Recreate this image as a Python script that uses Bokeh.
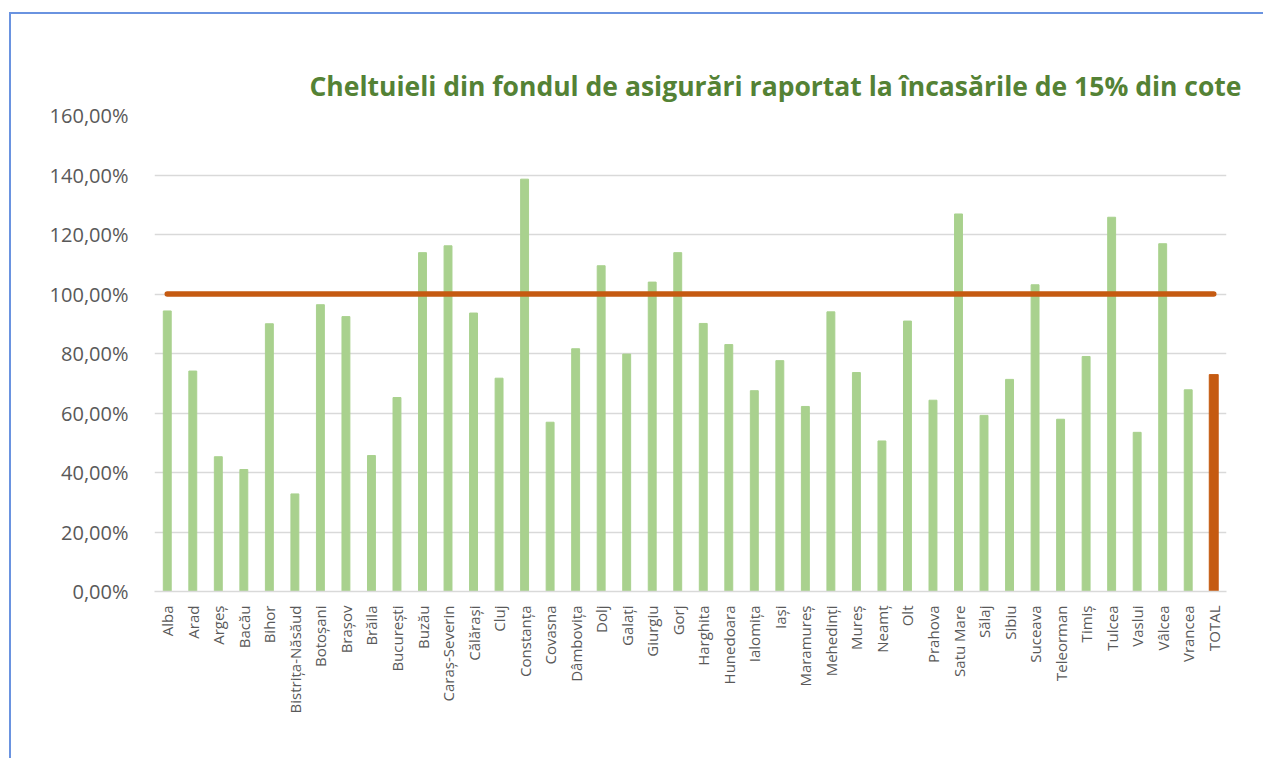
from bokeh.plotting import figure
from bokeh.models import ColumnDataSource, FactorRange, FixedTicker, Title
from bokeh.embed import file_html
from bokeh.resources import INLINE

categories = ["Alba", "Arad", "Argeș", "Bacău", "Bihor", "Bistrița-Năsăud", "Botoșani",
              "Brașov", "Brăila", "București", "Buzău", "Caraș-Severin", "Călărași", "Cluj",
              "Constanța", "Covasna", "Dâmbovița", "Dolj", "Galați", "Giurgiu", "Gorj",
              "Harghita", "Hunedoara", "Ialomița", "Iași", "Maramureș", "Mehedinți", "Mureș",
              "Neamț", "Olt", "Prahova", "Satu Mare", "Sălaj", "Sibiu", "Suceava", "Teleorman",
              "Timiș", "Tulcea", "Vaslui", "Vâlcea", "Vrancea", "TOTAL"]
values = [94.3, 74.1, 45.3, 41.0, 90.0, 32.8, 96.4,
          92.4, 45.7, 65.2, 113.9, 116.2, 93.6, 71.7,
          138.6, 56.9, 81.6, 109.5, 79.8, 104.0, 113.9,
          90.1, 83.0, 67.5, 77.6, 62.2, 94.0, 73.6,
          50.6, 90.9, 64.3, 126.9, 59.2, 71.3, 103.1, 57.9,
          79.0, 125.8, 53.5, 116.9, 67.8, 72.9]
target = [100, 100]
y_ticks = [0, 20, 40, 60, 80, 100, 120, 140, 160]
title_text = "Cheltuieli din fondul de asigurări raportat la încasările de 15% din cote"

GREEN = "#A9D18E"
ORANGE = "#C55A11"
GRAY = "#595959"
BLUE = "#6A93E0"

colors = [ORANGE if c == "TOTAL" else GREEN for c in categories]
widths = [0.35 if c == "TOTAL" else 0.31 for c in categories]
src = ColumnDataSource(dict(x=categories, top=values, color=colors, w=widths))

p = figure(x_range=FactorRange(*categories, range_padding=0),
           y_range=(0, 160), width=1254, height=746,
           output_backend="svg", toolbar_location=None,
           min_border_left=143, min_border_right=39, min_border_top=101,
           min_border_bottom=169, margin=(12, 0, 0, 9))
p.styles = {"border-top": f"2px solid {BLUE}", "border-left": f"2px solid {BLUE}"}
p.outline_line_color = None
p.background_fill_color = "white"
p.border_fill_color = "white"

p.vbar(x="x", top="top", width="w", color="color", source=src)
p.line(x=[categories[0], categories[-1]], y=target, line_color=ORANGE,
       line_width=5.5, line_cap="round")

p.yaxis.ticker = FixedTicker(ticks=y_ticks)
p.yaxis.major_label_overrides = {t: f"{t},00%" for t in y_ticks}
p.yaxis.major_label_text_font = "Open Sans"
p.yaxis.major_label_text_font_size = "20px"
p.yaxis.major_label_text_color = GRAY
p.yaxis.axis_line_color = None
p.yaxis.major_tick_line_color = None
p.yaxis.minor_tick_line_color = None
p.yaxis.major_label_standoff = 20

p.xaxis.major_label_orientation = 1.5708
p.xaxis.major_label_text_font = "Open Sans"
p.xaxis.major_label_text_font_size = "15px"
p.xaxis.major_label_text_color = GRAY
p.xaxis.axis_line_color = "#D9D9D9"
p.xaxis.axis_line_width = 1.5
p.xaxis.major_tick_line_color = None
p.xaxis.minor_tick_line_color = None
p.xaxis.major_label_standoff = 8

p.xgrid.grid_line_color = None
p.ygrid.grid_line_color = "#D9D9D9"
p.ygrid.grid_line_width = 1.5

p.add_layout(Title(text=title_text, align="right", offset=-15, standoff=23,
                   text_font="Open Sans",
                   text_font_style="bold", text_font_size="26.5px",
                   text_color="#548235"), "above")

open("out.html", "w").write(file_html(p, INLINE))
